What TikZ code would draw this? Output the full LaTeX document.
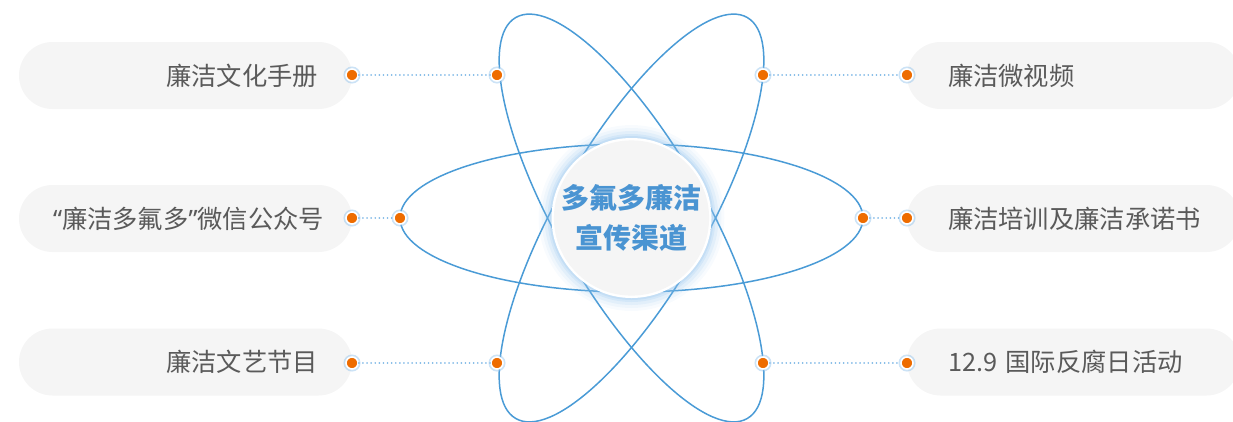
\documentclass[tikz,border=0pt]{standalone}
\usepackage{fontspec}
\setmainfont{Noto Sans CJK SC}
\newfontfamily\latinq{Noto Sans}
\definecolor{orbit}{HTML}{4A9BD6}
\definecolor{dotor}{HTML}{EE6C00}
\definecolor{boxgray}{HTML}{F5F5F5}
\definecolor{txtgray}{HTML}{5A5A5A}
\definecolor{cblue}{HTML}{4A94D2}
\definecolor{glow}{HTML}{8EC0EC}
\definecolor{dotline}{HTML}{7FB8E6}
\begin{document}
\begin{tikzpicture}[x=1pt,y=-1pt,
  pill/.style={fill=boxgray, rounded corners=33.5pt, minimum width=333pt, minimum height=67pt, inner ysep=0pt, text=txtgray, font=\fontsize{25.3}{29}\selectfont},
  lpill/.style={pill, inner xsep=34pt, text width=265pt, align=right},
  rpill/.style={pill, inner xsep=41pt, text width=251pt, align=left},
  orbitline/.style={draw=orbit, line width=1.5pt},
  dotnode/.style={circle, fill=dotor, draw=white, line width=1.6pt, minimum size=12pt, inner sep=0pt,
    preaction={draw=glow, line width=5pt, opacity=0.45}},
  linkline/.style={draw=dotline, line width=1.7pt, dash pattern=on 0.1pt off 4pt, line cap=round}
]
\useasboundingbox (0,0) rectangle (1233,421);
\begin{scope}
\clip (0,0) rectangle (1233,421);
% boxes
\node[lpill] (b1) at (185.5,75.5) {廉洁文化手册};
\node[lpill] (b2) at (185.5,218.5) {{\latinq “}廉洁多氟多{\latinq ”}微信公众号};
\node[lpill] (b3) at (185.5,362) {廉洁文艺节目};
\node[rpill] (b4) at (1073.5,75.5) {廉洁微视频};
\node[rpill] (b5) at (1073.5,218.5) {廉洁培训及廉洁承诺书};
\node[rpill] (b6) at (1073.5,362) {12.9 国际反腐日活动};
% orbits
\coordinate (c) at (631.5,218);
\draw[orbitline] (c) ellipse [x radius=231.5pt, y radius=74pt];
\draw[orbitline, rotate around={60:(c)}] (c) ellipse [x radius=231.5pt, y radius=74pt];
\draw[orbitline, rotate around={-60:(c)}] (c) ellipse [x radius=231.5pt, y radius=74pt];
\end{scope}
% center glow
\foreach \r/\o in {93/0.06,90/0.09,87/0.13,84/0.18,82/0.22}{
  \fill[glow, opacity=\o] (c) circle (\r pt);
}
\fill[white] (c) circle (80pt);
\node[circle, fill=boxgray, minimum size=144pt, inner sep=0pt, align=center, text=cblue,
  font=\fontsize{28}{40}\selectfont\bfseries] (ctr) at (c) {多氟多廉洁\\宣传渠道};
% dots
\node[dotnode] (l1o) at (352,75) {};
\node[dotnode] (l1i) at (497,75) {};
\node[dotnode] (l2o) at (352,218) {};
\node[dotnode] (l2i) at (400,218) {};
\node[dotnode] (l3o) at (352,363) {};
\node[dotnode] (l3i) at (497,363) {};
\node[dotnode] (r1i) at (763,75) {};
\node[dotnode] (r1o) at (907,75) {};
\node[dotnode] (r2i) at (863,218) {};
\node[dotnode] (r2o) at (907,218) {};
\node[dotnode] (r3i) at (763,363) {};
\node[dotnode] (r3o) at (907,363) {};
\draw[linkline] (l1o) -- (l1i);
\draw[linkline] (l2o) -- (l2i);
\draw[linkline] (l3o) -- (l3i);
\draw[linkline] (r1i) -- (r1o);
\draw[linkline] (r2i) -- (r2o);
\draw[linkline] (r3i) -- (r3o);
\end{tikzpicture}
\end{document}
